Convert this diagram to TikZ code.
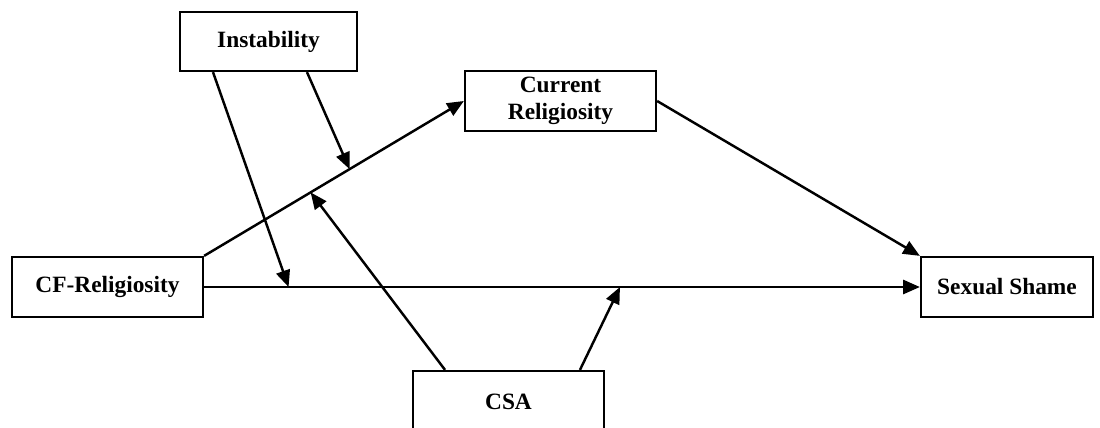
\documentclass[tikz,border=0pt]{standalone}
\usepackage{fontspec}
\setmainfont{Liberation Serif}
\usetikzlibrary{arrows.meta,calc}

\begin{document}
\begin{tikzpicture}[
  x=0.02cm, y=-0.02cm,
  var/.style={draw, line width=1.3pt, align=center, inner sep=0pt,
              font=\fontsize{13.3}{15}\selectfont\bfseries, minimum height=1.2cm},
  effect/.style={draw, line width=1.4pt, -{Triangle[length=9.5pt,width=8pt]}}
]
\useasboundingbox (0,0) rectangle (1100,427);
\clip (0,0) rectangle (1100,427);
\node[var, minimum width=3.54cm, minimum height=1.18cm] (inst) at (268.5,41.5) {Instability};
\node[var, minimum width=3.82cm] (curr) at (560.5,101) {Current\\Religiosity};
\node[var, minimum width=3.82cm] (cfrel) at (107.5,287) {CF-Religiosity};
\node[var, minimum width=3.44cm] (shame) at (1007,287) {Sexual Shame};
\node[var, minimum width=3.82cm, minimum height=1.24cm] (csa) at (508.5,402) {CSA};
% paths
\draw[effect] (cfrel.north east) -- (curr.west);
\draw[effect] (curr.east) -- (shame.north west);
\draw[effect] (cfrel.east) -- (shame.west);
% moderation points
\coordinate (modA) at ($(cfrel.north east)!0.56!(curr.west)$);
\coordinate (modB) at ($(cfrel.north east)!0.41!(curr.west)$);
\coordinate (modC) at ($(cfrel.east)!0.118!(shame.west)$);
\coordinate (modD) at ($(cfrel.east)!0.581!(shame.west)$);
\draw[effect] ([xshift=0.77cm]inst.south) -- (modA);
\draw[effect] ([xshift=-1.11cm]inst.south) -- (modC);
\draw[effect] ([xshift=-1.27cm]csa.north) -- (modB);
\draw[effect] ([xshift=1.43cm]csa.north) -- (modD);
\end{tikzpicture}
\end{document}
